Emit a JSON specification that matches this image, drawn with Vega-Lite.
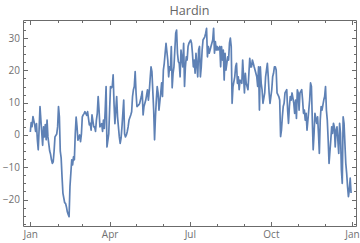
{
  "$schema": "https://vega.github.io/schema/vega-lite/v6.json",
  "width": 333,
  "height": 206,
  "autosize": {"type": "none"},
  "padding": {"left": 23, "top": 20, "right": 4, "bottom": 17},
  "title": {"text": "Hardin", "font": "Open Sans", "fontSize": 12.6, "fontWeight": "normal", "color": "#666666", "anchor": "middle", "baseline": "alphabetic", "offset": -10.3},
  "config": {
    "view": {"stroke": "#6b6b6b", "strokeWidth": 1},
    "axis": {"domain": false, "grid": false, "tickColor": "#6b6b6b", "tickWidth": 1, "labelFont": "Open Sans", "labelFontSize": 10, "labelColor": "#707070", "labelFlush": false, "labelOverlap": false, "labelBound": false, "title": null}
  },
  "data": {"values": [
    {"d":"2015-01-01","t":0.9},{"d":"2015-01-02","t":3.8},{"d":"2015-01-03","t":2.6},{"d":"2015-01-04","t":5.7},{"d":"2015-01-06","t":3.1},{"d":"2015-01-07","t":1.1},{"d":"2015-01-08","t":3.5},{"d":"2015-01-09","t":-1.5},{"d":"2015-01-10","t":-4.6},{"d":"2015-01-11","t":1.8},
    {"d":"2015-01-12","t":8.8},{"d":"2015-01-13","t":4.6},{"d":"2015-01-15","t":-3.2},{"d":"2015-01-16","t":2.5},{"d":"2015-01-17","t":-0.6},{"d":"2015-01-18","t":3.2},{"d":"2015-01-19","t":-1.5},{"d":"2015-01-20","t":4.6},{"d":"2015-01-21","t":-0.6},{"d":"2015-01-23","t":-5},
    {"d":"2015-01-24","t":-6},{"d":"2015-01-25","t":-7.7},{"d":"2015-01-26","t":-8.8},{"d":"2015-01-27","t":-8.3},{"d":"2015-01-28","t":-5},{"d":"2015-01-29","t":-0.6},{"d":"2015-01-31","t":0.3},{"d":"2015-02-01","t":2.5},{"d":"2015-02-02","t":8.8},{"d":"2015-02-03","t":5.6},
    {"d":"2015-02-04","t":-5},{"d":"2015-02-05","t":-7.1},{"d":"2015-02-06","t":-12.9},{"d":"2015-02-07","t":-18},{"d":"2015-02-09","t":-21},{"d":"2015-02-10","t":-21.2},{"d":"2015-02-11","t":-22.3},{"d":"2015-02-12","t":-23.8},{"d":"2015-02-13","t":-24.6},{"d":"2015-02-14","t":-25.3},
    {"d":"2015-02-15","t":-16},{"d":"2015-02-17","t":-7.7},{"d":"2015-02-18","t":-9.3},{"d":"2015-02-19","t":-6.8},{"d":"2015-02-20","t":-7.7},{"d":"2015-02-21","t":0.3},{"d":"2015-02-22","t":5.5},{"d":"2015-02-23","t":2.6},{"d":"2015-02-24","t":-1.6},{"d":"2015-02-26","t":0},
    {"d":"2015-02-27","t":-2.1},{"d":"2015-02-28","t":0.3},{"d":"2015-03-01","t":5.6},{"d":"2015-03-02","t":6.2},{"d":"2015-03-03","t":6.6},{"d":"2015-03-04","t":7.2},{"d":"2015-03-06","t":6.1},{"d":"2015-03-07","t":7.2},{"d":"2015-03-08","t":5.1},{"d":"2015-03-09","t":3.1},
    {"d":"2015-03-10","t":3.6},{"d":"2015-03-11","t":1.5},{"d":"2015-03-12","t":6.2},{"d":"2015-03-14","t":2.5},{"d":"2015-03-15","t":2.5},{"d":"2015-03-16","t":1.1},{"d":"2015-03-17","t":4.6},{"d":"2015-03-18","t":6.7},{"d":"2015-03-19","t":11.9},{"d":"2015-03-20","t":7.7},
    {"d":"2015-03-21","t":2.5},{"d":"2015-03-23","t":3.5},{"d":"2015-03-24","t":1.1},{"d":"2015-03-25","t":4.6},{"d":"2015-03-26","t":2},{"d":"2015-03-27","t":7.7},{"d":"2015-03-28","t":15},{"d":"2015-03-29","t":-3.7},{"d":"2015-03-31","t":0.3},{"d":"2015-04-01","t":7.7},
    {"d":"2015-04-02","t":15},{"d":"2015-04-03","t":14.6},{"d":"2015-04-04","t":15},{"d":"2015-04-05","t":18.6},{"d":"2015-04-06","t":9.7},{"d":"2015-04-07","t":3.5},{"d":"2015-04-09","t":11.9},{"d":"2015-04-10","t":5.6},{"d":"2015-04-11","t":2.5},{"d":"2015-04-12","t":-0.6},
    {"d":"2015-04-13","t":-2.6},{"d":"2015-04-14","t":-1},{"d":"2015-04-15","t":2.5},{"d":"2015-04-17","t":10.8},{"d":"2015-04-18","t":0.3},{"d":"2015-04-19","t":-0.6},{"d":"2015-04-20","t":0},{"d":"2015-04-21","t":1},{"d":"2015-04-22","t":2.5},{"d":"2015-04-23","t":4.6},
    {"d":"2015-04-25","t":6.2},{"d":"2015-04-26","t":7.2},{"d":"2015-04-27","t":11.9},{"d":"2015-04-28","t":14},{"d":"2015-04-29","t":15},{"d":"2015-04-30","t":19.6},{"d":"2015-05-01","t":13},{"d":"2015-05-02","t":8.8},{"d":"2015-05-04","t":9.3},{"d":"2015-05-05","t":9.7},
    {"d":"2015-05-06","t":10.8},{"d":"2015-05-07","t":11.9},{"d":"2015-05-08","t":13.5},{"d":"2015-05-09","t":6.2},{"d":"2015-05-10","t":8.8},{"d":"2015-05-12","t":10.8},{"d":"2015-05-13","t":12.4},{"d":"2015-05-14","t":14},{"d":"2015-05-15","t":10.8},{"d":"2015-05-16","t":13.5},
    {"d":"2015-05-17","t":17.5},{"d":"2015-05-18","t":21.1},{"d":"2015-05-19","t":19.6},{"d":"2015-05-21","t":7.7},{"d":"2015-05-22","t":-1.5},{"d":"2015-05-23","t":5.6},{"d":"2015-05-24","t":10.8},{"d":"2015-05-25","t":15},{"d":"2015-05-26","t":13},{"d":"2015-05-27","t":7.7},
    {"d":"2015-05-29","t":13},{"d":"2015-05-30","t":16.1},{"d":"2015-05-31","t":11.9},{"d":"2015-06-01","t":20.1},{"d":"2015-06-02","t":22.2},{"d":"2015-06-03","t":25.3},{"d":"2015-06-04","t":28.4},{"d":"2015-06-06","t":23.2},{"d":"2015-06-07","t":18},{"d":"2015-06-08","t":21.1},
    {"d":"2015-06-09","t":20.1},{"d":"2015-06-10","t":27.4},{"d":"2015-06-11","t":14.6},{"d":"2015-06-12","t":19.1},{"d":"2015-06-13","t":21.1},{"d":"2015-06-15","t":31.5},{"d":"2015-06-16","t":32.5},{"d":"2015-06-17","t":25.3},{"d":"2015-06-18","t":22.7},{"d":"2015-06-19","t":22.2},
    {"d":"2015-06-20","t":18},{"d":"2015-06-21","t":26.3},{"d":"2015-06-23","t":21.1},{"d":"2015-06-24","t":28.4},{"d":"2015-06-25","t":15},{"d":"2015-06-26","t":21.1},{"d":"2015-06-27","t":24.2},{"d":"2015-06-28","t":23.2},{"d":"2015-06-29","t":27.4},{"d":"2015-06-30","t":28.4},
    {"d":"2015-07-02","t":29.4},{"d":"2015-07-03","t":28.4},{"d":"2015-07-04","t":25.3},{"d":"2015-07-05","t":21.1},{"d":"2015-07-06","t":23.2},{"d":"2015-07-07","t":19.1},{"d":"2015-07-08","t":25.3},{"d":"2015-07-10","t":18},{"d":"2015-07-11","t":26.3},{"d":"2015-07-12","t":27.4},
    {"d":"2015-07-13","t":18},{"d":"2015-07-14","t":21.1},{"d":"2015-07-15","t":26.3},{"d":"2015-07-16","t":29.4},{"d":"2015-07-18","t":30.4},{"d":"2015-07-19","t":31.5},{"d":"2015-07-20","t":33},{"d":"2015-07-21","t":24.2},{"d":"2015-07-22","t":27.4},{"d":"2015-07-23","t":25.3},
    {"d":"2015-07-24","t":26.3},{"d":"2015-07-25","t":27.4},{"d":"2015-07-27","t":29.4},{"d":"2015-07-28","t":33},{"d":"2015-07-29","t":25.3},{"d":"2015-07-30","t":28.9},{"d":"2015-07-31","t":26.3},{"d":"2015-08-01","t":27.4},{"d":"2015-08-02","t":26.3},{"d":"2015-08-04","t":27.4},
    {"d":"2015-08-05","t":21.1},{"d":"2015-08-06","t":27.4},{"d":"2015-08-07","t":23.2},{"d":"2015-08-08","t":26.3},{"d":"2015-08-09","t":17},{"d":"2015-08-10","t":25.3},{"d":"2015-08-11","t":20.1},{"d":"2015-08-13","t":24.2},{"d":"2015-08-14","t":23.2},{"d":"2015-08-15","t":28.4},
    {"d":"2015-08-16","t":30},{"d":"2015-08-17","t":27.4},{"d":"2015-08-18","t":9.8},{"d":"2015-08-19","t":15},{"d":"2015-08-21","t":18},{"d":"2015-08-22","t":21.1},{"d":"2015-08-23","t":22.2},{"d":"2015-08-24","t":16},{"d":"2015-08-25","t":18},{"d":"2015-08-26","t":14},
    {"d":"2015-08-27","t":17},{"d":"2015-08-29","t":16},{"d":"2015-08-30","t":23.2},{"d":"2015-08-31","t":18},{"d":"2015-09-01","t":13},{"d":"2015-09-02","t":19.1},{"d":"2015-09-03","t":16},{"d":"2015-09-04","t":15},{"d":"2015-09-05","t":14},{"d":"2015-09-07","t":23.7},
    {"d":"2015-09-08","t":21.1},{"d":"2015-09-09","t":21.1},{"d":"2015-09-10","t":23.2},{"d":"2015-09-11","t":22.2},{"d":"2015-09-12","t":21.1},{"d":"2015-09-13","t":20.1},{"d":"2015-09-15","t":18},{"d":"2015-09-16","t":15},{"d":"2015-09-17","t":21.1},{"d":"2015-09-18","t":7.7},
    {"d":"2015-09-19","t":21.1},{"d":"2015-09-20","t":16},{"d":"2015-09-21","t":14},{"d":"2015-09-22","t":9.8},{"d":"2015-09-24","t":13},{"d":"2015-09-25","t":18},{"d":"2015-09-26","t":20.1},{"d":"2015-09-27","t":22.2},{"d":"2015-09-28","t":18},{"d":"2015-09-29","t":13},
    {"d":"2015-09-30","t":9.8},{"d":"2015-10-02","t":14},{"d":"2015-10-03","t":18},{"d":"2015-10-04","t":19.1},{"d":"2015-10-05","t":21.1},{"d":"2015-10-06","t":21.1},{"d":"2015-10-07","t":20.1},{"d":"2015-10-08","t":13},{"d":"2015-10-10","t":11.9},{"d":"2015-10-11","t":10.8},
    {"d":"2015-10-12","t":-0.5},{"d":"2015-10-13","t":1.5},{"d":"2015-10-14","t":5.6},{"d":"2015-10-15","t":8.8},{"d":"2015-10-16","t":9.8},{"d":"2015-10-17","t":13},{"d":"2015-10-19","t":14},{"d":"2015-10-20","t":7.7},{"d":"2015-10-21","t":3.6},{"d":"2015-10-22","t":8.8},
    {"d":"2015-10-23","t":11.9},{"d":"2015-10-24","t":10.8},{"d":"2015-10-25","t":13},{"d":"2015-10-27","t":9.8},{"d":"2015-10-28","t":6.7},{"d":"2015-10-29","t":10.8},{"d":"2015-10-30","t":5.1},{"d":"2015-10-31","t":14},{"d":"2015-11-01","t":13},{"d":"2015-11-02","t":7.7},
    {"d":"2015-11-03","t":13},{"d":"2015-11-05","t":14},{"d":"2015-11-06","t":10.8},{"d":"2015-11-07","t":6.7},{"d":"2015-11-08","t":7.7},{"d":"2015-11-09","t":4.6},{"d":"2015-11-10","t":6.7},{"d":"2015-11-11","t":1.5},{"d":"2015-11-13","t":7.7},{"d":"2015-11-14","t":10.8},
    {"d":"2015-11-15","t":16.1},{"d":"2015-11-16","t":15},{"d":"2015-11-17","t":4.6},{"d":"2015-11-18","t":-4.6},{"d":"2015-11-19","t":0.5},{"d":"2015-11-20","t":6.7},{"d":"2015-11-22","t":3.6},{"d":"2015-11-23","t":5.6},{"d":"2015-11-24","t":0.5},{"d":"2015-11-25","t":-5.7},
    {"d":"2015-11-26","t":4.6},{"d":"2015-11-27","t":8.8},{"d":"2015-11-28","t":7.7},{"d":"2015-11-30","t":10.8},{"d":"2015-12-01","t":11.9},{"d":"2015-12-02","t":15},{"d":"2015-12-03","t":7.7},{"d":"2015-12-04","t":4.6},{"d":"2015-12-05","t":-1.5},{"d":"2015-12-06","t":-8.8},
    {"d":"2015-12-08","t":-1.5},{"d":"2015-12-09","t":2.5},{"d":"2015-12-10","t":0.5},{"d":"2015-12-11","t":3.6},{"d":"2015-12-12","t":2.5},{"d":"2015-12-13","t":-3.7},{"d":"2015-12-14","t":1.5},{"d":"2015-12-15","t":2.5},{"d":"2015-12-17","t":-5.7},{"d":"2015-12-18","t":3.6},
    {"d":"2015-12-19","t":0.5},{"d":"2015-12-20","t":-10.8},{"d":"2015-12-21","t":-15},{"d":"2015-12-22","t":5.6},{"d":"2015-12-23","t":3.6},{"d":"2015-12-25","t":-8.8},{"d":"2015-12-26","t":-11.9},{"d":"2015-12-27","t":-16},{"d":"2015-12-28","t":-19.1},{"d":"2015-12-29","t":-17},
    {"d":"2015-12-30","t":-13.4},{"d":"2015-12-31","t":-18}
  ]},
  "layer": [
    {
      "mark": {"type": "line", "color": "#5E81B5", "strokeWidth": 1.7, "strokeJoin": "round"},
      "encoding": {
        "x": {"field": "d", "type": "temporal",
          "scale": {"type": "utc", "domain": [{"year": 2014, "month": 12, "date": 23, "hours": 17, "utc": true}, {"year": 2016, "month": 1, "date": 5, "hours": 14, "utc": true}]},
          "axis": {"orient": "bottom",
            "values": [{"year":2015,"month":1,"date":1,"utc":true},{"year":2015,"month":2,"date":1,"utc":true},{"year":2015,"month":3,"date":1,"utc":true},{"year":2015,"month":4,"date":1,"utc":true},{"year":2015,"month":5,"date":1,"utc":true},{"year":2015,"month":6,"date":1,"utc":true},{"year":2015,"month":7,"date":1,"utc":true},{"year":2015,"month":8,"date":1,"utc":true},{"year":2015,"month":9,"date":1,"utc":true},{"year":2015,"month":10,"date":1,"utc":true},{"year":2015,"month":11,"date":1,"utc":true},{"year":2015,"month":12,"date":1,"utc":true},{"year":2016,"month":1,"date":1,"utc":true}],
            "labelExpr": "utcmonth(datum.value) % 3 === 0 ? utcFormat(datum.value, '%b') : ''",
            "tickSize": {"condition": {"test": "utcmonth(datum.value) % 3 === 0", "value": -4.5}, "value": -2.5},
            "labelPadding": 8}
        },
        "y": {"field": "t", "type": "quantitative",
          "scale": {"domain": [-28.2, 35.6], "nice": false, "zero": false},
          "axis": {"orient": "left",
            "values": [-27.5,-25,-22.5,-20,-17.5,-15,-12.5,-10,-7.5,-5,-2.5,0,2.5,5,7.5,10,12.5,15,17.5,20,22.5,25,27.5,30,32.5,35],
            "labelExpr": "datum.value % 10 === 0 ? format(datum.value, 'd') : ''",
            "tickSize": {"condition": {"test": "datum.value % 10 === 0", "value": -4.5}, "value": -2.5},
            "labelPadding": 8}
        }
      }
    },
    {
      "mark": {"type": "line", "opacity": 0},
      "encoding": {
        "x": {"field": "d", "type": "temporal",
          "axis": {"orient": "top", "labels": false,
            "values": [{"year":2015,"month":1,"date":1,"utc":true},{"year":2015,"month":2,"date":1,"utc":true},{"year":2015,"month":3,"date":1,"utc":true},{"year":2015,"month":4,"date":1,"utc":true},{"year":2015,"month":5,"date":1,"utc":true},{"year":2015,"month":6,"date":1,"utc":true},{"year":2015,"month":7,"date":1,"utc":true},{"year":2015,"month":8,"date":1,"utc":true},{"year":2015,"month":9,"date":1,"utc":true},{"year":2015,"month":10,"date":1,"utc":true},{"year":2015,"month":11,"date":1,"utc":true},{"year":2015,"month":12,"date":1,"utc":true},{"year":2016,"month":1,"date":1,"utc":true}],
            "tickSize": {"condition": {"test": "utcmonth(datum.value) % 3 === 0", "value": -4.5}, "value": -2.5}}
        },
        "y": {"field": "t", "type": "quantitative",
          "axis": {"orient": "right", "labels": false,
            "values": [-27.5,-25,-22.5,-20,-17.5,-15,-12.5,-10,-7.5,-5,-2.5,0,2.5,5,7.5,10,12.5,15,17.5,20,22.5,25,27.5,30,32.5,35],
            "tickSize": {"condition": {"test": "datum.value % 10 === 0", "value": -4.5}, "value": -2.5}}
        }
      }
    }
  ],
  "resolve": {"axis": {"x": "independent", "y": "independent"}}
}
